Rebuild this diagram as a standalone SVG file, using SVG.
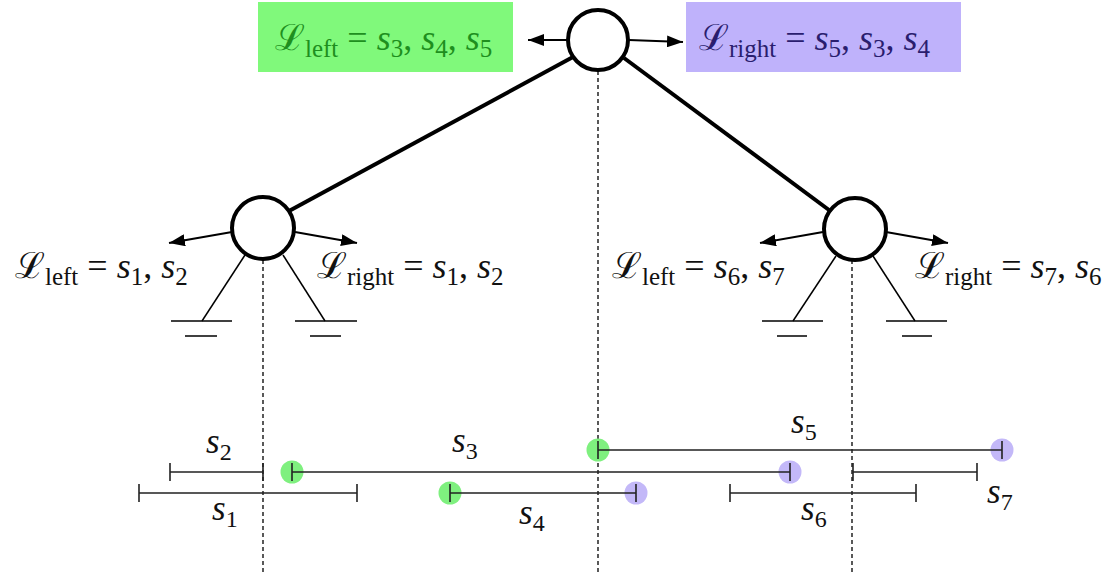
<svg xmlns="http://www.w3.org/2000/svg" width="1119" height="572" viewBox="0 0 1119 572">
<style>
.lbl{font-family:"Liberation Serif","DejaVu Serif",serif;font-size:36px;fill:#111}
.sm{font-size:25px}
.it{font-style:italic}
.seg{font-family:"Liberation Serif","DejaVu Serif",serif;font-size:35px;fill:#111}
.ss{font-size:24px}
.node{fill:#fff;stroke:#000;stroke-width:4}
.edge{stroke:#000;stroke-width:4;fill:none}
.arr{stroke:#000;stroke-width:2;fill:none}
.thin{stroke:#000;stroke-width:1.5;fill:none}
.dot{stroke:#000;stroke-width:1.3;stroke-dasharray:4 3;fill:none}
.line{stroke:#222;stroke-width:1.6;fill:none}
.g{fill:#7ff07f}
.p{fill:#c3b8f8}
</style>
<defs>
<marker id="ah2" viewBox="0 0 16 12" refX="16" refY="6" markerWidth="16" markerHeight="12" markerUnits="userSpaceOnUse" orient="auto">
<path d="M0,0 L16,6 L0,12 z" fill="#000"/>
</marker>
</defs>

<g id="boxes">
<rect x="258" y="2" width="255" height="70" fill="#80f97b"/>
<rect x="686" y="2" width="275" height="70" fill="#bfb2fb"/>
</g>

<g id="connectors">
<line class="edge" x1="573" y1="57" x2="289" y2="211"/>
<line class="edge" x1="624" y1="58" x2="829" y2="210"/>
<line class="arr" x1="568" y1="40" x2="528" y2="40" marker-end="url(#ah2)"/>
<line class="arr" x1="629" y1="40" x2="683" y2="42" marker-end="url(#ah2)"/>
<line class="arr" x1="232" y1="232" x2="169" y2="243" marker-end="url(#ah2)"/>
<line class="arr" x1="295" y1="232" x2="357" y2="243" marker-end="url(#ah2)"/>
<line class="arr" x1="823" y1="232" x2="760" y2="243" marker-end="url(#ah2)"/>
<line class="arr" x1="886" y1="232" x2="948" y2="243" marker-end="url(#ah2)"/>
<line class="dot" x1="598" y1="71" x2="598" y2="572"/>
<line class="dot" x1="263" y1="260" x2="263" y2="572"/>
<line class="dot" x1="852" y1="260" x2="852" y2="572"/>
</g>

<g id="grounds">
<line class="thin" x1="245" y1="255" x2="202" y2="321"/>
<line class="thin" x1="171" y1="321" x2="232" y2="321"/>
<line class="thin" x1="185" y1="336" x2="217" y2="336"/>
<line class="thin" x1="283" y1="255" x2="325" y2="321"/>
<line class="thin" x1="295" y1="321" x2="357" y2="321"/>
<line class="thin" x1="310" y1="336" x2="341" y2="336"/>
<line class="thin" x1="836" y1="256" x2="793" y2="321"/>
<line class="thin" x1="762" y1="321" x2="823" y2="321"/>
<line class="thin" x1="777" y1="336" x2="807" y2="336"/>
<line class="thin" x1="873" y1="256" x2="915" y2="321"/>
<line class="thin" x1="886" y1="321" x2="947" y2="321"/>
<line class="thin" x1="902" y1="336" x2="932" y2="336"/>
</g>

<g id="node-root"><circle class="node" cx="598" cy="40" r="30"/></g>
<g id="node-left"><circle class="node" cx="263" cy="228" r="31"/></g>
<g id="node-right"><circle class="node" cx="855" cy="229" r="31"/></g>

<g id="labels">
<text class="lbl" x="275" y="50" style="fill:#1e8f1e">ℒ<tspan class="sm" dy="7">left</tspan><tspan dy="-7"> = </tspan><tspan class="it">s</tspan><tspan class="sm" dy="7">3</tspan><tspan dy="-7">, </tspan><tspan class="it">s</tspan><tspan class="sm" dy="7">4</tspan><tspan dy="-7">, </tspan><tspan class="it">s</tspan><tspan class="sm" dy="7">5</tspan></text>
<text class="lbl" x="699" y="50" style="fill:#2a1d6e">ℒ<tspan class="sm" dy="7">right</tspan><tspan dy="-7"> = </tspan><tspan class="it">s</tspan><tspan class="sm" dy="7">5</tspan><tspan dy="-7">, </tspan><tspan class="it">s</tspan><tspan class="sm" dy="7">3</tspan><tspan dy="-7">, </tspan><tspan class="it">s</tspan><tspan class="sm" dy="7">4</tspan></text>
<text class="lbl" x="15" y="278">ℒ<tspan class="sm" dy="7">left</tspan><tspan dy="-7"> = </tspan><tspan class="it">s</tspan><tspan class="sm" dy="7">1</tspan><tspan dy="-7">, </tspan><tspan class="it">s</tspan><tspan class="sm" dy="7">2</tspan></text>
<text class="lbl" x="317" y="278">ℒ<tspan class="sm" dy="7">right</tspan><tspan dy="-7"> = </tspan><tspan class="it">s</tspan><tspan class="sm" dy="7">1</tspan><tspan dy="-7">, </tspan><tspan class="it">s</tspan><tspan class="sm" dy="7">2</tspan></text>
<text class="lbl" x="612" y="278">ℒ<tspan class="sm" dy="7">left</tspan><tspan dy="-7"> = </tspan><tspan class="it">s</tspan><tspan class="sm" dy="7">6</tspan><tspan dy="-7">, </tspan><tspan class="it">s</tspan><tspan class="sm" dy="7">7</tspan></text>
<text class="lbl" x="915" y="278">ℒ<tspan class="sm" dy="7">right</tspan><tspan dy="-7"> = </tspan><tspan class="it">s</tspan><tspan class="sm" dy="7">7</tspan><tspan dy="-7">, </tspan><tspan class="it">s</tspan><tspan class="sm" dy="7">6</tspan></text>
</g>

<g id="segments">
<circle class="g" cx="292" cy="472" r="11.5"/>
<circle class="p" cx="790" cy="472" r="11.5"/>
<circle class="g" cx="450" cy="493" r="11.5"/>
<circle class="p" cx="636" cy="493" r="11.5"/>
<circle class="g" cx="598" cy="450" r="11.5"/>
<circle class="p" cx="1002" cy="450" r="11.5"/>
<path class="line" d="M170,472 H263 M170,463 V481 M263,463 V481"/>
<path class="line" d="M139,493 H357 M139,484 V502 M357,484 V502"/>
<path class="line" d="M292,472 H790 M292,463 V481 M790,463 V481"/>
<path class="line" d="M450,493 H636 M450,484 V502 M636,484 V502"/>
<path class="line" d="M598,450 H1002 M598,441 V459 M1002,441 V459"/>
<path class="line" d="M730,493 H916 M730,484 V502 M916,484 V502"/>
<path class="line" d="M853,472 H977 M853,463 V481 M977,463 V481"/>
<text class="seg" x="206" y="453"><tspan class="it">s</tspan><tspan class="ss" dy="7">2</tspan></text>
<text class="seg" x="212" y="520"><tspan class="it">s</tspan><tspan class="ss" dy="7">1</tspan></text>
<text class="seg" x="452" y="452"><tspan class="it">s</tspan><tspan class="ss" dy="7">3</tspan></text>
<text class="seg" x="519" y="524"><tspan class="it">s</tspan><tspan class="ss" dy="7">4</tspan></text>
<text class="seg" x="791" y="433"><tspan class="it">s</tspan><tspan class="ss" dy="7">5</tspan></text>
<text class="seg" x="801" y="520"><tspan class="it">s</tspan><tspan class="ss" dy="7">6</tspan></text>
<text class="seg" x="987" y="503"><tspan class="it">s</tspan><tspan class="ss" dy="7">7</tspan></text>
</g>
</svg>
